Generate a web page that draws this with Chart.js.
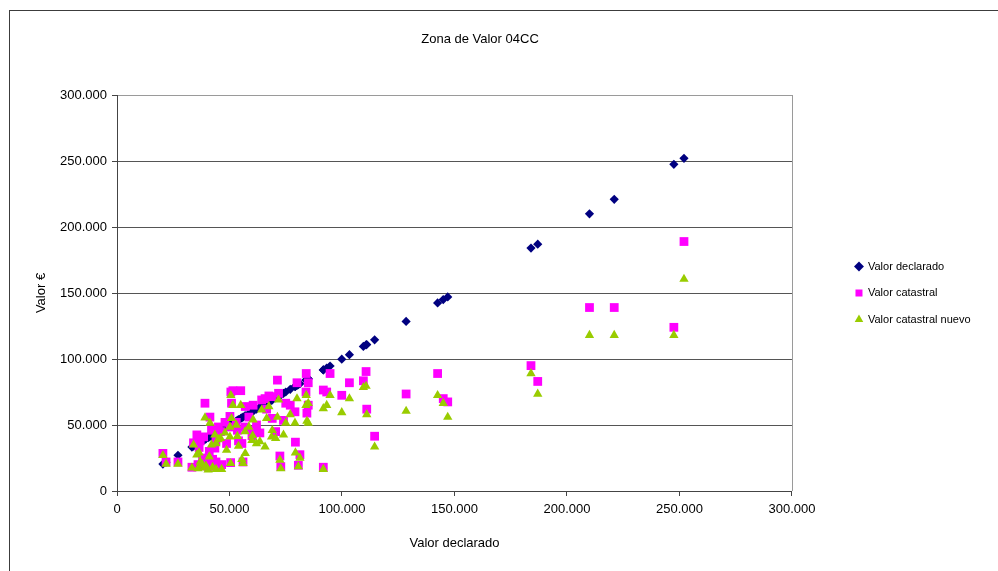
<!DOCTYPE html>
<html lang="es">
<head>
  <meta charset="UTF-8" />
  <title>Zona de Valor 04CC</title>
  <script src="https://cdn.jsdelivr.net/npm/chart.js"></script>
  <style>
    * { box-sizing: border-box; margin: 0; padding: 0; }
    body { background: #fff; width: 998px; height: 571px; overflow: hidden; position: relative; }
    /* marco del gráfico (sale por la derecha y por abajo) */
    #marco {
      position: absolute; left: 9px; top: 10px;
      width: 1200px; height: 800px;
      border: 1px solid #3c3c3c;
    }
    #grafico { position: absolute; left: 0; top: 0; }
  </style>
</head>
<body>
  <div id="marco"></div>
  <canvas id="grafico" width="998" height="571"></canvas>

  <script>
    // Datos de la zona: valor declarado, catastral y catastral nuevo (en €)
    const valorDeclarado = [
      20400, 21800, 27100, 33300, 34000, 35500, 36000, 36500, 37000, 38000,
      38500, 39100, 39500, 40500, 41000, 41300, 42000, 42500, 43500, 44000,
      44000, 45000, 46000, 46500, 48000, 48700, 50200, 50200, 50500, 50600,
      50900, 51500, 53000, 53500, 54000, 55000, 55500, 56000, 56900, 57000,
      58600, 60000, 60300, 60500, 62000, 63500, 64300, 65800, 66500, 67500,
      68700, 69000, 70500, 71300, 71800, 72400, 72800, 74000, 75000, 77000,
      79100, 79300, 80000, 80600, 81300, 84000, 84100, 84400, 85000, 85000,
      91700, 91700, 93200, 94700, 99900, 103300, 109500, 110700, 111000, 114500,
      128500, 142500, 145000, 147000, 184000, 187000, 210000, 221000, 247500, 252000
    ];
    const valorCatastral = [
      28500, 22000, 22000, 18000, 36500, 42500, 20000, 33000, 38000, 25000,
      41000, 66500, 21000, 18500, 30000, 56000, 46000, 24000, 32500, 22000,
      38000, 48500, 45000, 20000, 52000, 36000, 56500, 48500, 21500, 75000,
      66500, 76000, 52000, 46000, 38000, 76000, 36000, 22000, 48500, 64000,
      56000, 42000, 46000, 65000, 50000, 44000, 69000, 70000, 62000, 72000,
      71500, 55000, 45000, 84000, 74000, 26500, 18500, 53500, 66500, 65000,
      60000, 37000, 82000, 19500, 27500, 75000, 89000, 59000, 65000, 82000,
      76500, 18000, 75000, 89000, 72500, 82000, 83500, 90500, 62000, 41500,
      73500, 89000, 70000, 67500, 95000, 83000, 139000, 139000, 124000, 189000
    ];
    const valorCatastralNuevo = [
      27000, 20500, 20500, 17500, 35000, 27500, 17000, 29000, 22000, 20000,
      17500, 55500, 19000, 16000, 26000, 51500, 35000, 18000, 42500, 16500,
      36000, 39000, 40000, 16500, 44000, 31000, 48500, 41000, 21000, 72500,
      55000, 65000, 50000, 41500, 34000, 65000, 24000, 21000, 45000, 28500,
      48500, 38500, 42000, 54000, 36000, 37500, 61500, 33500, 55000, 64000,
      41000, 46000, 40000, 56000, 69000, 23500, 17000, 42500, 51500, 58000,
      51500, 29000, 70000, 18500, 25000, 65000, 72500, 53000, 51500, 66500,
      62500, 16500, 65000, 72500, 59500, 70000, 78500, 79500, 58000, 33500,
      60500, 72500, 66500, 56000, 89000, 73500, 118000, 118000, 118000, 160500
    ];
    const marcasEje = [0, 50000, 100000, 150000, 200000, 250000, 300000];

    // 250000 -> "250.000"
    function formatoMiles(v) {
      return v === 0 ? '0' : String(v).replace(/\B(?=(\d{3})+(?!\d))/g, '.');
    }

    const puntos = (ys) => valorDeclarado.map((x, i) => ({ x: x, y: ys[i] }));

    Chart.defaults.font.family = '"Liberation Sans", Arial, sans-serif';
    Chart.defaults.color = '#000';

    // borde gris a la derecha del área de trazado
    const bordeDerecho = {
      id: 'bordeDerecho',
      beforeDatasetsDraw(chart) {
        const { ctx, chartArea: a } = chart;
        ctx.save();
        ctx.strokeStyle = '#9a9a9a';
        ctx.lineWidth = 1;
        ctx.beginPath();
        ctx.moveTo(Math.round(a.right) + 0.5, a.top);
        ctx.lineTo(Math.round(a.right) + 0.5, a.bottom);
        ctx.stroke();
        ctx.restore();
      }
    };

    // el título va centrado en el marco, no en todo el lienzo
    const tituloCentrado = {
      id: 'tituloCentrado',
      afterLayout(chart) {
        if (chart.titleBlock) chart.titleBlock.right = chart.titleBlock.left + 960;
      }
    };

    new Chart(document.getElementById('grafico'), {
      type: 'scatter',
      data: {
        datasets: [
          {
            label: 'Valor declarado',
            data: puntos(valorDeclarado),
            pointStyle: 'rectRot',
            pointRadius: 4.6,
            pointBorderWidth: 0,
            backgroundColor: '#000080',
            borderColor: '#000080',
            borderWidth: 0,
            order: 3
          },
          {
            label: 'Valor catastral',
            data: puntos(valorCatastral),
            pointStyle: 'rect',
            pointRadius: 6.2,
            pointBorderWidth: 0,
            backgroundColor: '#ff00ff',
            borderColor: '#ff00ff',
            borderWidth: 0,
            order: 2
          },
          {
            label: 'Valor catastral nuevo',
            data: puntos(valorCatastralNuevo),
            pointStyle: 'triangle',
            pointRadius: 5.4,
            pointBorderWidth: 0,
            backgroundColor: '#99cc00',
            borderColor: '#99cc00',
            borderWidth: 0,
            order: 1
          }
        ]
      },
      options: {
        responsive: false,
        animation: false,
        events: [],
        layout: { padding: { left: 0, right: 17.5, top: 0, bottom: 0 } },
        plugins: {
          title: {
            display: true,
            text: 'Zona de Valor 04CC',
            color: '#000',
            font: { size: 13, weight: 'normal' },
            padding: { top: 32, bottom: 47.4 }
          },
          legend: {
            position: 'right',
            align: 'center',
            fullSize: false,
            labels: {
              usePointStyle: true,
              boxWidth: 7,
              boxHeight: 7,
              padding: 15.5,
              color: '#000',
              font: { size: 11 },
              sort: (a, b) => a.datasetIndex - b.datasetIndex
            }
          },
          tooltip: { enabled: false }
        },
        scales: {
          x: {
            type: 'linear',
            position: 'bottom',
            min: 0,
            max: 300000,
            afterFit: (s) => { s.height = 80; },
            afterBuildTicks: (s) => { s.ticks = marcasEje.map(v => ({ value: v })); },
            ticks: { font: { size: 13 }, padding: 6, maxRotation: 0, callback: formatoMiles },
            grid: { drawOnChartArea: false, drawTicks: true, tickLength: 5, color: '#444', tickColor: '#444' },
            border: { display: true, color: '#444' },
            title: { display: true, text: 'Valor declarado', font: { size: 13 }, padding: { top: 0, bottom: 20 } }
          },
          y: {
            type: 'linear',
            position: 'left',
            min: 0,
            max: 300000,
            afterFit: (s) => { s.width = 117; },
            afterBuildTicks: (s) => { s.ticks = marcasEje.map(v => ({ value: v })); },
            ticks: { font: { size: 13 }, padding: 5, callback: formatoMiles },
            grid: {
              color: (c) => (c.tick && c.tick.value === 300000 ? '#9a9a9a' : '#555'),
              tickColor: '#444',
              tickLength: 5
            },
            border: { display: true, color: '#444' },
            title: { display: true, text: 'Valor €', font: { size: 13 }, padding: { top: 34, bottom: 0 } }
          },
          // hueco entre el área de trazado y la leyenda
          yHueco: {
            type: 'linear',
            position: 'right',
            display: true,
            afterFit: (s) => { s.width = 48; },
            ticks: { display: false },
            grid: { display: false },
            border: { display: false }
          }
        }
      },
      plugins: [bordeDerecho, tituloCentrado]
    });
  </script>
</body>
</html>
